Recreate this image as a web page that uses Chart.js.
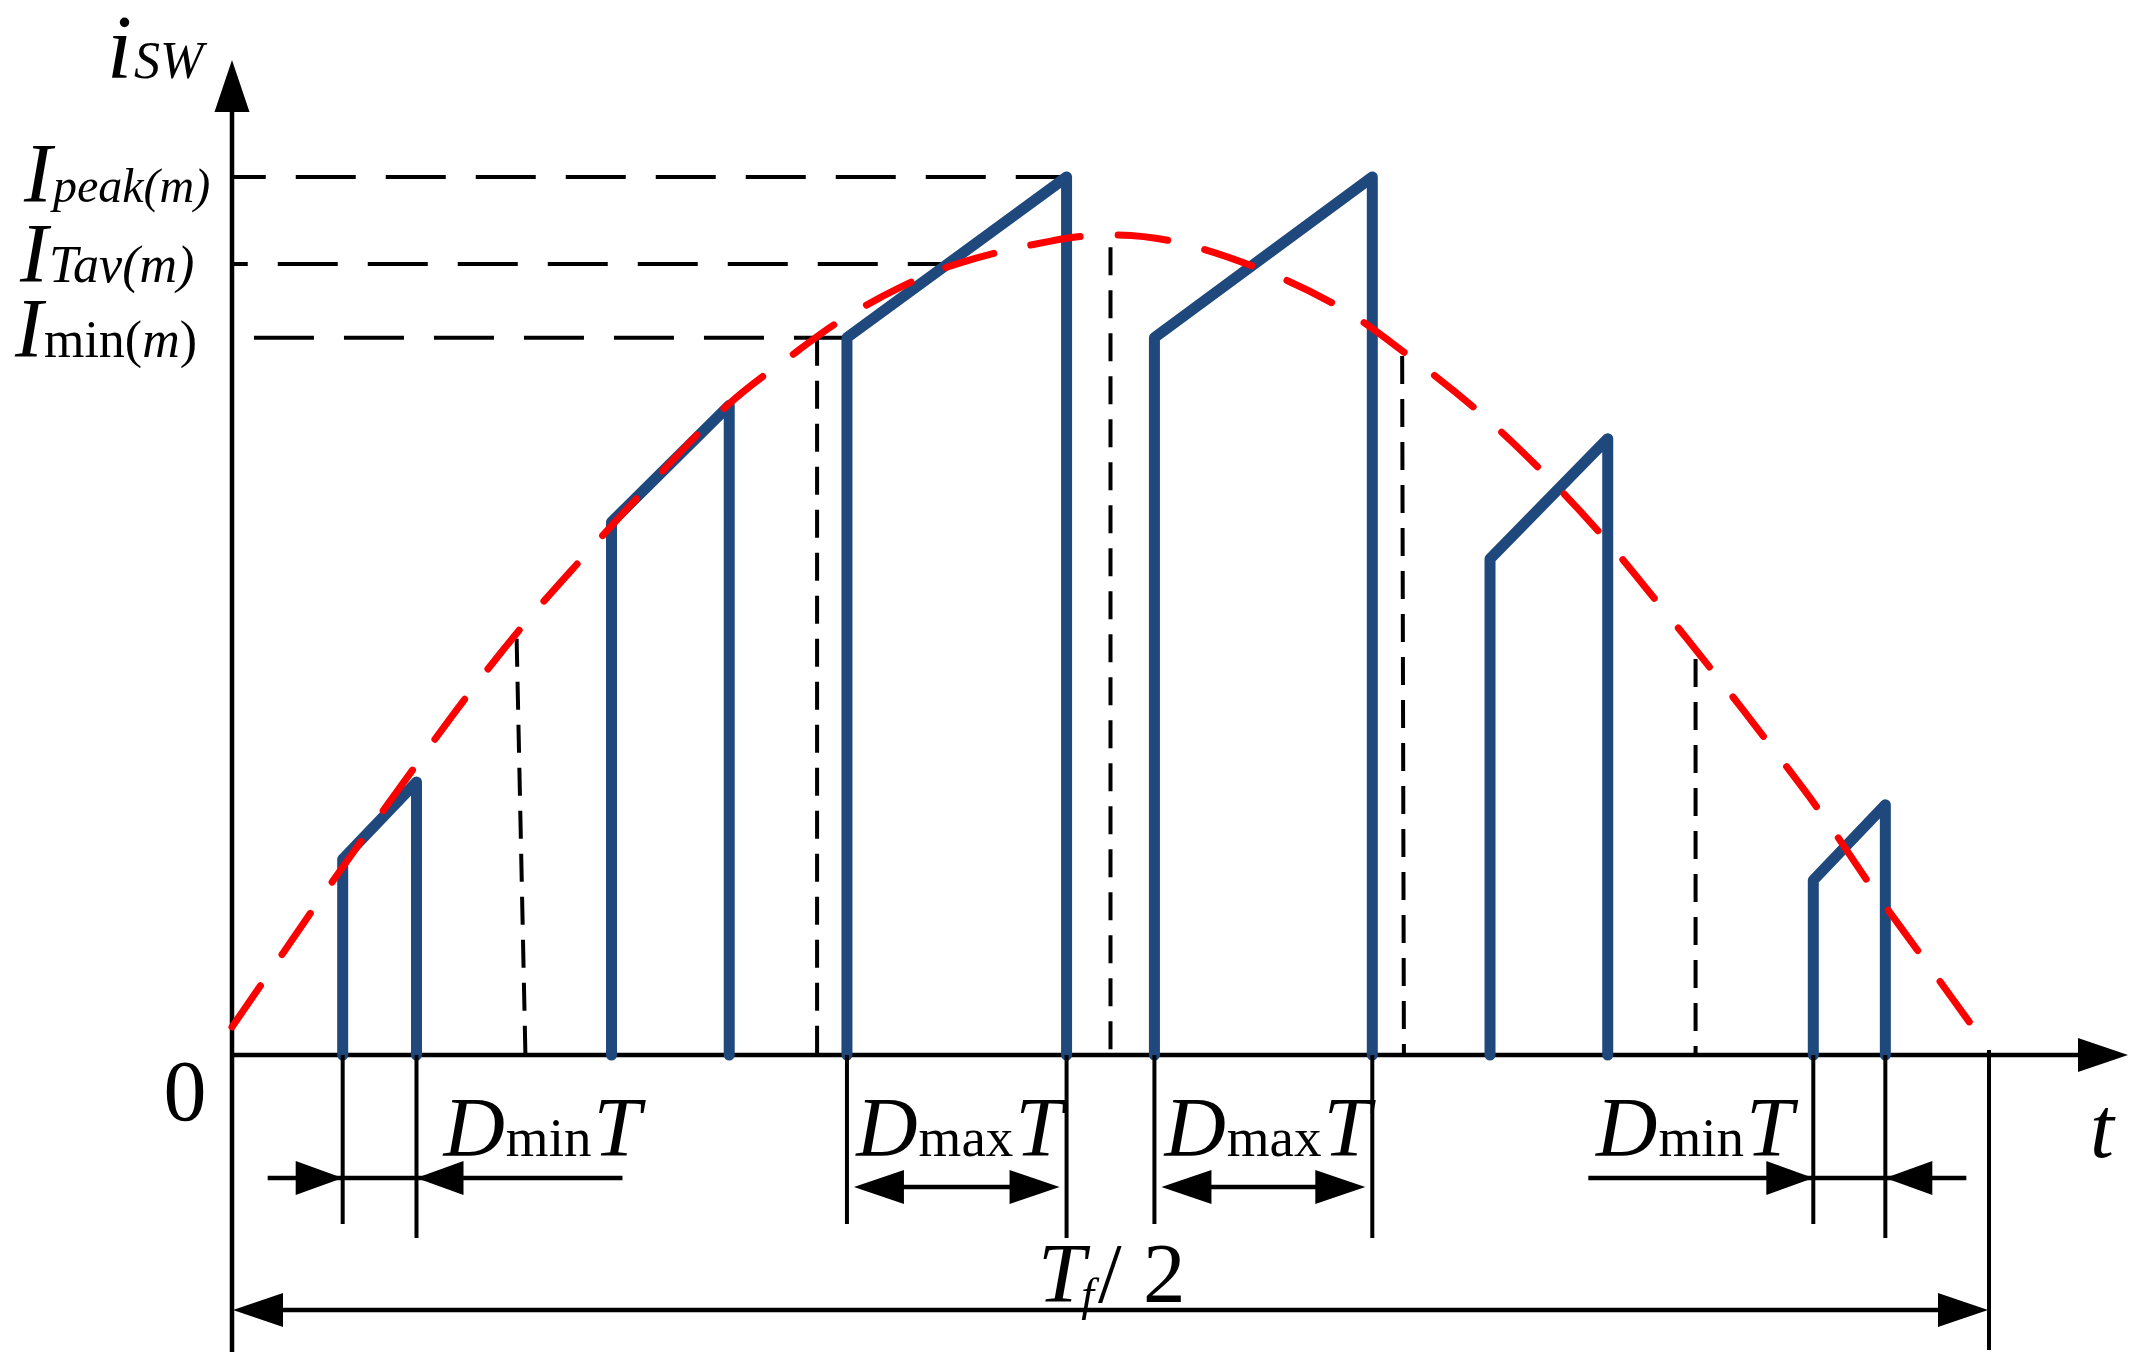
<!DOCTYPE html>
<html><head><meta charset="utf-8">
<script src="https://cdn.jsdelivr.net/npm/chart.js@4/dist/chart.umd.min.js"></script>
<style>html,body{margin:0;padding:0;background:#fff;overflow:hidden}canvas{display:block}</style>
</head><body>
<canvas id="c" width="2136" height="1368"></canvas>
<script>
// Time axis: 0..100 = Tf/2 ; current axis: 0..100 = Ipeak(m)
const pulseStart = [6.3, 21.6, 35.0, 52.5, 71.6, 90.0];
const pulseEnd   = [10.5, 28.3, 47.5, 64.9, 78.3, 94.1];
const pulseLow   = [22.3, 60.7, 81.7, 81.7, 56.5, 19.9];
const pulseHigh  = [31.1, 74.0, 100, 100, 70.2, 28.5];

// red dashed envelope (average current)
const avgT = [0, 2.9, 5.7, 10.4, 13.5, 16.6, 19.9, 23.0, 28.2, 32.2, 34.6, 38.0, 41.4, 46.6, 50.0,
              53.7, 58.4, 63.1, 67.0, 71.0, 74.7, 78.1, 81.4, 84.4, 87.5, 90.5, 93.3, 96.3, 99.3];
const avgI = [3.2, 11.6, 19.7, 32.8, 41.2, 49.0, 56.5, 63.3, 74.0, 80.2, 83.6, 87.4, 90.2, 92.7, 93.4,
              92.6, 89.6, 85.1, 79.6, 73.2, 66.2, 58.9, 50.9, 43.4, 35.4, 27.4, 19.2, 10.9, 2.6];

// horizontal reference levels
const levelValue = [100, 90.1, 81.7];
const levelFromT = [0.1, 0.1, 1.25];
const levelToT   = [47.5, 41.4, 35.0];

// vertical sampling guides
const guideTopT    = [16.2, 33.3, 50.0, 66.6, 83.3];
const guideBottomT = [16.7, 33.3, 50.0, 66.7, 83.3];
const guideTopI    = [47.4, 81.7, 92.0, 79.6, 45.1];

const halfPeriodT = 100;

const SERIF = '"Liberation Serif","DejaVu Serif",serif';
const F = (style, size) => `${style} ${size}px ${SERIF}`;
const BLUE = '#1F497D';

const datasets = [];
datasets.push({
  label: 'avg', data: avgT.map((t, i) => ({x: t, y: avgI[i]})),
  borderColor: '#FF0000', borderWidth: 7, borderDash: [50, 38], borderCapStyle: 'round',
  tension: 0.35, pointRadius: 0, fill: false, clip: false, order: 0
});
pulseStart.forEach((s, i) => {
  datasets.push({
    label: 'pulse' + i,
    data: [{x: s, y: 0}, {x: s, y: pulseLow[i]}, {x: pulseEnd[i], y: pulseHigh[i]}, {x: pulseEnd[i], y: 0}],
    borderColor: BLUE, borderWidth: 11, borderCapStyle: 'round', borderJoinStyle: 'round',
    tension: 0, pointRadius: 0, fill: false, clip: false, order: 1
  });
});
const levelOffsets = [28, 46, 0];
levelValue.forEach((v, i) => {
  datasets.push({
    label: 'level' + i, data: [{x: levelFromT[i], y: v}, {x: levelToT[i], y: v}],
    borderColor: '#000', borderWidth: 4, borderDash: [60, 30], borderDashOffset: levelOffsets[i],
    pointRadius: 0, fill: false, clip: false, order: 2
  });
});
guideTopT.forEach((t, i) => {
  datasets.push({
    label: 'guide' + i, data: [{x: t, y: guideTopI[i]}, {x: guideBottomT[i], y: 0}],
    borderColor: '#000', borderWidth: 4, borderDash: [28, 15],
    pointRadius: 0, fill: false, clip: false, order: 2
  });
});

function runs(ctx, x, y, parts, align) {
  let w = 0;
  parts.forEach(p => { ctx.font = p.f; p.w = ctx.measureText(p.t).width; w += p.w + (p.gap || 0); });
  let cx = align === 'right' ? x - w : (align === 'center' ? x - w / 2 : x);
  parts.forEach(p => { ctx.font = p.f; ctx.fillText(p.t, cx, y + (p.dy || 0)); cx += p.w + (p.gap || 0); });
}
function head(ctx, tipX, tipY, dir, len, half) {
  len = len || 48; half = half || 17;
  ctx.beginPath();
  ctx.moveTo(tipX, tipY);
  ctx.lineTo(tipX - dir * len, tipY - half);
  ctx.lineTo(tipX - dir * len, tipY + half);
  ctx.closePath(); ctx.fill();
}
function vhead(ctx, tipX, tipY, len, half) {
  ctx.beginPath();
  ctx.moveTo(tipX, tipY);
  ctx.lineTo(tipX - half, tipY + len);
  ctx.lineTo(tipX + half, tipY + len);
  ctx.closePath(); ctx.fill();
}
function line(ctx, x1, y1, x2, y2, w) {
  ctx.lineWidth = w; ctx.beginPath(); ctx.moveTo(x1, y1); ctx.lineTo(x2, y2); ctx.stroke();
}

const axesPlugin = {
  id: 'axes',
  beforeDatasetsDraw(chart) {
    const ctx = chart.ctx, xs = chart.scales.x, ys = chart.scales.y;
    const x0 = xs.getPixelForValue(0), y0 = ys.getPixelForValue(0);
    ctx.save();
    ctx.strokeStyle = '#000'; ctx.fillStyle = '#000'; ctx.lineCap = 'butt';
    line(ctx, x0, y0 + 297, x0, 106, 4.5);
    vhead(ctx, x0, 60, 52, 17.5);
    line(ctx, x0, y0, 2085, y0, 4.5);
    head(ctx, 2128, y0, 1, 50, 17);
    ctx.restore();
  },
  afterDatasetsDraw(chart) {
    const ctx = chart.ctx, xs = chart.scales.x, ys = chart.scales.y;
    const X = t => xs.getPixelForValue(t);
    const x0 = X(0), y0 = ys.getPixelForValue(0);
    ctx.save();
    ctx.strokeStyle = '#000'; ctx.fillStyle = '#000'; ctx.lineCap = 'butt';
    ctx.textBaseline = 'alphabetic'; ctx.textAlign = 'left';

    [0, 2, 3, 5].forEach(i => {
      line(ctx, X(pulseStart[i]), y0, X(pulseStart[i]), y0 + 169, 4);
      line(ctx, X(pulseEnd[i]), y0, X(pulseEnd[i]), y0 + 183, 4);
    });
    const xe = X(halfPeriodT);
    line(ctx, xe, y0 - 5, xe, y0 + 295, 4);

    const rMin = y0 + 123, rMax = y0 + 132;
    let s = X(pulseStart[0]), e = X(pulseEnd[0]);
    line(ctx, s - 75, rMin, e + 206, rMin, 4.5);
    head(ctx, s, rMin, 1, 47, 17); head(ctx, e, rMin, -1, 47, 17);
    s = X(pulseStart[5]); e = X(pulseEnd[5]);
    line(ctx, s - 225, rMin, e + 81, rMin, 4.5);
    head(ctx, s, rMin, 1, 47, 17); head(ctx, e, rMin, -1, 47, 17);
    [2, 3].forEach(i => {
      const a = X(pulseStart[i]) + 7, b = X(pulseEnd[i]) - 7;
      line(ctx, a + 20, rMax, b - 20, rMax, 4.5);
      head(ctx, a, rMax, -1, 50, 17); head(ctx, b, rMax, 1, 50, 17);
    });
    const rT = y0 + 255;
    line(ctx, x0 + 20, rT, xe - 20, rT, 4.5);
    head(ctx, x0 + 1, rT, -1, 50, 17); head(ctx, xe - 1, rT, 1, 50, 17);

    const big = 85, sub = 55;
    const lb = y0 + 101;
    const dmin = [{t: 'D', f: F('italic', big), gap: 1}, {t: 'min', f: F('normal', sub), gap: 2}, {t: 'T', f: F('italic', big)}];
    const dmax = [{t: 'D', f: F('italic', big), gap: 1}, {t: 'max', f: F('normal', sub), gap: 2}, {t: 'T', f: F('italic', big)}];
    runs(ctx, X(pulseEnd[0]) + 27, lb, dmin, 'left');
    runs(ctx, X(pulseEnd[2]) - 4, lb, dmax, 'right');
    runs(ctx, X(pulseStart[3]) + 10, lb, dmax, 'left');
    runs(ctx, X(pulseStart[5]) - 20, lb, dmin, 'right');
    runs(ctx, 1038, y0 + 247, [
      {t: 'T', f: F('italic', big), gap: -4},
      {t: 'f', f: F('italic', 46), dy: 8, gap: 4},
      {t: '/ 2', f: F('normal', big)}
    ], 'left');

    ctx.font = F('normal', 86);
    ctx.textAlign = 'center';
    ctx.fillText('0', 185, y0 + 65);
    ctx.textAlign = 'left';
    ctx.font = F('italic', 86);
    ctx.fillText('t', 2090, y0 + 102);
    runs(ctx, 107, 78, [{t: 'i', f: F('italic', 90), gap: 2}, {t: 'SW', f: F('italic', 52)}], 'left');

    runs(ctx, 24, ys.getPixelForValue(levelValue[0]) + 25, [
      {t: 'I', f: F('italic', 84), gap: 1}, {t: 'peak(m)', f: F('italic', 48)}], 'left');
    runs(ctx, 20, ys.getPixelForValue(levelValue[1]) + 18, [
      {t: 'I', f: F('italic', 84), gap: 1}, {t: 'Tav(m)', f: F('italic', 52)}], 'left');
    runs(ctx, 15, ys.getPixelForValue(levelValue[2]) + 19, [
      {t: 'I', f: F('italic', 84), gap: 1}, {t: 'min(', f: F('normal', 52)},
      {t: 'm', f: F('italic', 52)}, {t: ')', f: F('normal', 52)}], 'left');
    ctx.restore();
  }
};

new Chart(document.getElementById('c'), {
  type: 'line',
  data: {datasets},
  options: {
    responsive: false, animation: false, devicePixelRatio: 1,
    layout: {padding: {left: 232, right: 147, top: 177, bottom: 313}},
    plugins: {legend: {display: false}, tooltip: {enabled: false}},
    scales: {
      x: {type: 'linear', min: 0, max: 100, display: false},
      y: {type: 'linear', min: 0, max: 100, display: false}
    }
  },
  plugins: [axesPlugin]
});
</script>
</body></html>
